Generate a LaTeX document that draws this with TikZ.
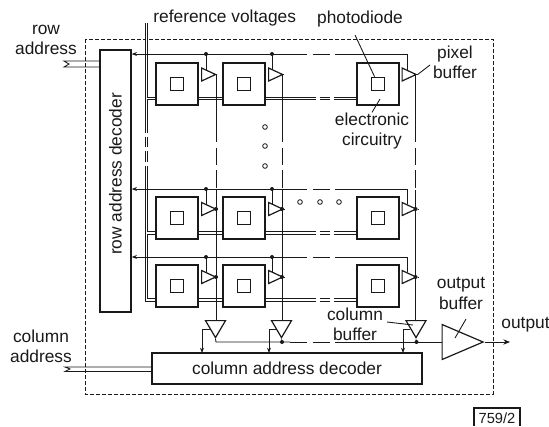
\documentclass[tikz,border=0pt]{standalone}
\usepackage{fontspec}
\setmainfont{Liberation Sans}
\usepackage{xcolor}
\usepackage{tikz}
\usetikzlibrary{arrows.meta, calc, shapes.geometric}
\definecolor{inkgray}{RGB}{25, 25, 25}

\begin{document}
\begin{tikzpicture}[x=0.75pt, y=-0.75pt, >=Stealth, line width=0.6pt, color=inkgray,
    cell/.style={draw, fill=white, line width=1pt, minimum width=31.5pt, minimum height=31.5pt, inner sep=0pt},
    diode/.style={draw, fill=white, line width=1pt, minimum width=10pt, minimum height=10pt, inner sep=0pt},
    pbuf/.style={draw, fill=white, shape=isosceles triangle, isosceles triangle stretches, anchor=lower side, line width=0.9pt, minimum width=9.75pt, minimum height=10.5pt, inner sep=0pt},
    cbuf/.style={pbuf, shape border rotate=270, minimum width=15pt, minimum height=12.75pt},
    lbl/.style={font=\fontsize{13}{15.2}\selectfont, inner sep=0pt, align=center},
    wire/.style={line width=0.65pt},
    gapped/.style={wire, dash pattern=on 13pt off 4pt},
    twin/.style={double, double distance=1.4pt, line width=0.6pt},
    twingap/.style={twin, dash pattern=on 8pt off 3pt},
    jdot/.style={circle, fill, inner sep=0pt, minimum size=3pt},
    hollow/.style={circle, draw, inner sep=0pt, minimum size=3.5pt, line width=0.6pt}]
  \useasboundingbox (0,0) rectangle (549,426);

  % chip outline
  \draw[line width=0.7pt, dash pattern=on 3pt off 1.5pt] (85,39) rectangle (493,394);

  % blocks
  \node[draw, line width=1pt, minimum width=23.25pt, minimum height=196.5pt, inner sep=0pt] (rowdec) at (115.5,181) {};
  \node[lbl, rotate=90] (rowtxt) at (115.5,174) {row address decoder};
  \node[lbl, draw, line width=1pt, minimum width=202.5pt, minimum height=23.25pt] (coldec) at (287,368.5) {column address decoder};
  \coordinate (reftop) at (146.5,23);
  \coordinate (refcorner) at (146.5,300);

  % pixel array
  \foreach \r/\cy/\by in {1/84/74.5, 2/218/209, 3/286/277}
    \foreach \c/\cx/\bx in {1/177/201, 2/244/268, 3/378/401.5} {
      \node[cell] (cell\r\c) at (\cx,\cy) {};
      \node[diode] (pd\r\c) at (cell\r\c) {};
      \node[pbuf] (buf\r\c) at (\bx,\by) {};
    }

  \node[cbuf] (cbuf1) at (215.5,320) {};
  \node[cbuf] (cbuf2) at (281.5,320) {};
  \node[cbuf] (cbuf3) at (416,320) {};
  \node[pbuf, minimum width=26.25pt, minimum height=30.75pt] (outbuf) at (441.5,342) {};

  % reference lines
  \draw[twin] (reftop) -- (146.5,122);
  \draw[twingap] (146.5,122) -- (146.5,170);
  \draw[twin] (146.5,170) -- (refcorner) -- (cell31.west |- refcorner);
  \foreach \r/\ly in {1/98.5, 2/233, 3/300} {
    \ifnum\r=3\else \draw[twin] (146.5,\ly) -- (cell\r1.west |- 0,\ly); \fi
    \draw[twin] (cell\r1.east |- 0,\ly) -- (cell\r2.west |- 0,\ly);
    \draw[twin] (cell\r2.east |- 0,\ly) -- (305,\ly);
    \draw[twingap] (305,\ly) -- (340,\ly);
    \draw[twin] (340,\ly) -- (cell\r3.west |- 0,\ly);
  }

  % row select lines
  \foreach \r/\ly in {1/54, 2/189, 3/257} {
    \draw[wire, <-, >={Stealth[length=4pt, width=3pt]}] (rowdec.east |- 0,\ly) -- (290,\ly);
    \draw[gapped] (290,\ly) -- (345,\ly);
    \draw[wire] (345,\ly) -- (407,\ly) -- ($(buf\r3.lower side)+(5.5,-5)$);
    \draw[wire] ($(buf\r1.lower side)+(5,-5)$) -- (206,\ly) node[jdot] (tap\r1) {};
    \draw[wire] ($(buf\r2.lower side)+(4,-5)$) -- (272,\ly) node[jdot] (tap\r2) {};
  }

  % column lines
  \foreach \c/\lx in {1/216, 2/282, 3/415.5} {
    \draw[wire] (buf1\c.apex) -- (\lx,74.5) -- (\lx,125);
    \draw[gapped] (\lx,125) -- (\lx,190);
    \draw[wire] (\lx,190) -- (cbuf\c.lower side -| \lx,0);
    \node[jdot] (jr2\c) at (\lx,209) {};
    \node[jdot] (jr3\c) at (\lx,277) {};
    \draw[wire] (buf2\c.apex) -- (jr2\c);
    \draw[wire] (buf3\c.apex) -- (jr3\c);
  }

  % column select and output bus
  \foreach \c/\lx in {1/202, 2/269, 3/403} {
    \draw[wire, ->, >={Stealth[length=4pt, width=3pt]}] ($(cbuf\c.lower side)+(-6,9)$) -- (\lx,329) -- (\lx,353);
  }
  \draw[wire] (cbuf1.apex) -- (216,342) -- (290,342);
  \draw[gapped] (290,342) -- (345,342);
  \draw[wire] (345,342) -- (outbuf.lower side);
  \node[jdot] (jo2) at (282,342) {};
  \node[jdot] (jo3) at (416.5,342) {};
  \draw[wire] (cbuf2.apex) -- (jo2);
  \draw[wire] (cbuf3.apex) -- (jo3);
  \coordinate (outend) at (510,342);
  \draw[wire, ->, >={Stealth[length=5pt, width=4pt]}] (outbuf.apex) -- (outend);

  % address inputs
  \draw[wire] (rowdec.west |- 0,61) -- (64,61) -- (69,64) -- (64,67) -- (rowdec.west |- 0,67);
  \draw[wire] (coldec.west |- 0,367) -- (65,367) -- (70,369) -- (65,371.5) -- (coldec.west |- 0,371.5);

  % dots
  \foreach \i/\dy in {1/127, 2/146, 3/166}
    \node[hollow] (vdot\i) at (265,\dy) {};
  \foreach \i/\dx in {1/300, 2/320, 3/339}
    \node[hollow] (hdot\i) at (\dx,202) {};

  % labels
  \node[lbl] (rowaddr) at (46,40) {row\\address};
  \node[lbl, anchor=west] (refv) at (153,18) {reference voltages};
  \node[lbl] (pdtxt) at (360,19) {photodiode};
  \node[lbl] (pixtxt) at (455,62) {pixel\\buffer};
  \node[lbl] (elec) at (372,131) {electronic\\circuitry};
  \node[lbl] (coladdr) at (41,346) {column\\address};
  \node[lbl] (cbtxt) at (355,324) {column\\buffer};
  \node[lbl] (obtxt) at (461,293.5) {output\\buffer};
  \node[lbl, anchor=west] (outtxt) at (501,325) {output};

  % leaders
  \draw[wire] (355,35) -- (pd13);
  \draw[wire] (430,65) -- (buf13.apex);
  \draw[wire] (380,99) -- (elec.north);
  \draw[wire] (387,322) -- (413,325);
  \draw[wire] (466,319) -- (455,338);

  % drawing number
  \draw[line width=0.9pt] (474,426) -- (474,408) -- (520,408) -- (520,426);
  \node[lbl, font=\fontsize{11}{13}\selectfont] (tagno) at (497,418) {759/2};
\end{tikzpicture}
\end{document}
